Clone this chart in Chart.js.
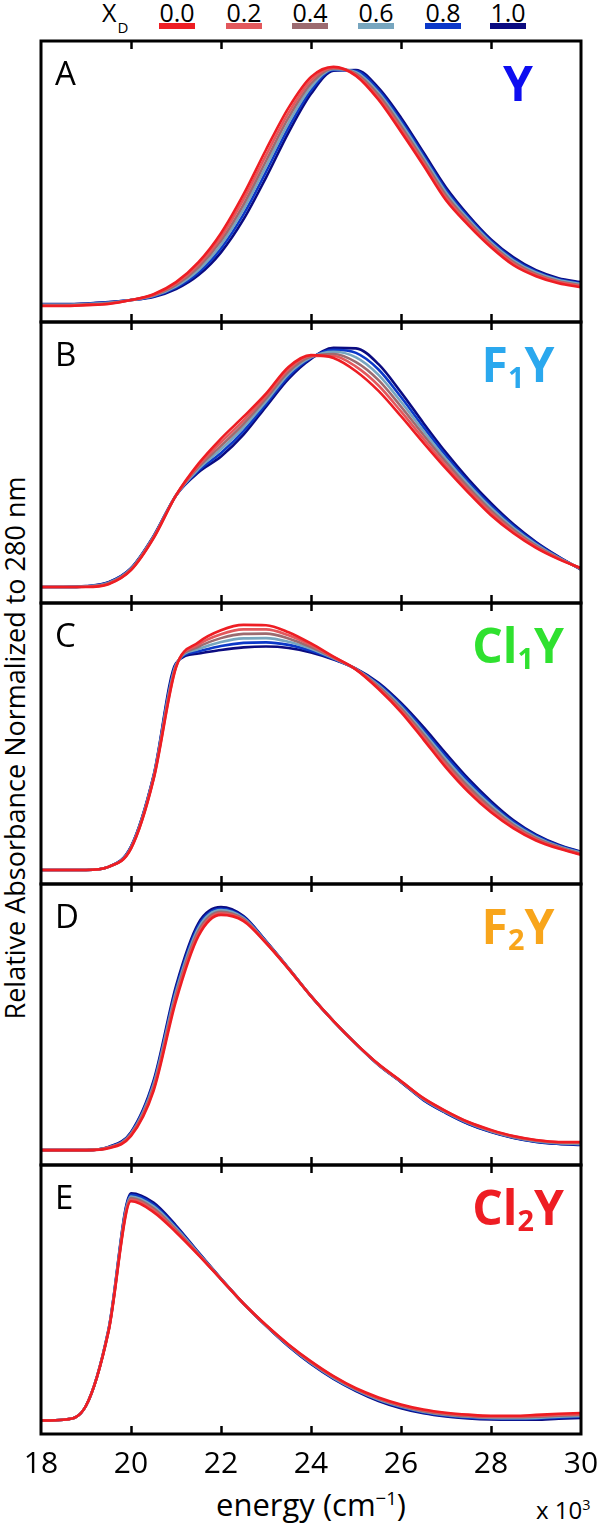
<!DOCTYPE html>
<html>
<head>
<meta charset="utf-8">
<script src="https://cdn.jsdelivr.net/npm/chart.js@4.4.1/dist/chart.umd.min.js"></script>
<style>
  html, body { margin: 0; padding: 0; background: #fff; }
  body {
    width: 597px; height: 1523px; position: relative; overflow: hidden;
    font-family: "Open Sans", "Noto Sans", sans-serif; color: #000;
  }
  .abs { position: absolute; white-space: nowrap; line-height: 1; }
  .letter { font-size: 33px; }
  .name { font-size: 48px; font-weight: bold; width: 200px; text-align: center; }
  .name sub { font-size: 0.6em; vertical-align: -0.22em; }
  .xd { font-size: 25px; text-align: center; width: 60px; }
  .bar { position: absolute; height: 6px; width: 36px; }
  canvas { position: absolute; left: 0; }
</style>
</head>
<body>
<div id="legend"></div>
<div class="abs" style="left:102px;top:0px;font-size:25px;">X<span style="font-size:15px;position:relative;top:11px;left:1px;">D</span></div>
<div class="abs" style="left:14px;top:748px;font-size:27px;transform:translate(-50%,-50%) rotate(-90deg);">Relative Absorbance Normalized to 280 nm</div>
<div class="abs" style="left:311px;top:1504px;font-size:31px;transform:translate(-50%,-50%);">energy (cm<sup style="font-size:0.6em;vertical-align:0.55em;">−1</sup>)</div>
<div class="abs" style="left:536px;top:1498px;font-size:24px;">x 10<sup style="font-size:0.6em;vertical-align:0.6em;">3</sup></div>

<script>
// energy axis, x 10^3 cm-1
const energy = [18, 18.5, 19, 19.5, 20, 20.5, 21, 21.5, 22, 22.5, 23, 23.5, 24, 24.5, 25, 25.5, 26, 26.5, 27, 27.5, 28, 28.5, 29, 29.5, 30];
const xTickLabels = [18, 20, 22, 24, 26, 28, 30];
const innerTicks = [20, 22, 24, 26, 28];

const xdLabels = ['0.0', '0.2', '0.4', '0.6', '0.8', '1.0'];
const xdColors = ['#ee1d23', '#e2585c', '#9c6b70', '#77a6bf', '#0b38c8', '#0b0b80'];

const panelLetters = ['A', 'B', 'C', 'D', 'E'];
const panelNames = ['Y', 'F<sub>1</sub>Y', 'Cl<sub>1</sub>Y', 'F<sub>2</sub>Y', 'Cl<sub>2</sub>Y'];
const panelNameColors = ['#0d0df0', '#2aa8ee', '#2fe12f', '#f8a51b', '#ee1d23'];

// relative absorbance (% of panel height)
// A - Y
const a00 = [5.7, 5.7, 6.0, 6.4, 7.8, 9.9, 14.2, 21.3, 31.6, 45.4, 61.3, 76.2, 87.2, 90.8, 87.6, 79.1, 67.7, 55.7, 43.3, 34.4, 26.6, 20.2, 16.3, 13.8, 12.4];
const a02 = [5.8, 5.8, 6.1, 6.5, 7.8, 9.7, 13.7, 20.4, 30.2, 43.6, 59.3, 74.4, 86.0, 90.5, 88.0, 79.9, 68.7, 56.6, 44.2, 35.1, 27.2, 20.8, 16.7, 14.2, 12.8];
const a04 = [6.0, 6.0, 6.2, 6.7, 7.8, 9.5, 13.2, 19.5, 28.9, 41.8, 57.3, 72.7, 84.8, 90.2, 88.4, 80.8, 69.7, 57.5, 45.1, 35.8, 27.7, 21.3, 17.1, 14.5, 13.1];
const a06 = [6.1, 6.1, 6.4, 6.8, 7.8, 9.3, 12.7, 18.5, 27.5, 40.1, 55.4, 70.9, 83.6, 90.0, 88.9, 81.6, 70.7, 58.5, 46.1, 36.5, 28.3, 21.9, 17.6, 14.9, 13.5];
const a08 = [6.3, 6.3, 6.5, 7.0, 7.8, 9.1, 12.2, 17.6, 26.2, 38.3, 53.4, 69.2, 82.4, 89.7, 89.3, 82.5, 71.7, 59.4, 47.0, 37.2, 28.8, 22.4, 18.0, 15.2, 13.8];
const a10 = [6.4, 6.4, 6.6, 7.1, 7.8, 8.9, 11.7, 16.7, 24.8, 36.5, 51.4, 67.4, 81.2, 89.4, 89.7, 83.3, 72.7, 60.3, 47.9, 37.9, 29.4, 23.0, 18.4, 15.6, 14.2];
// B - F1Y
const b00 = [5.7, 5.7, 5.7, 6.7, 11.7, 23.0, 38.3, 49.6, 58.5, 66.3, 74.5, 84.0, 88.2, 87.2, 82.5, 75.5, 66.5, 57.0, 47.8, 39.2, 31.2, 24.8, 19.6, 15.6, 12.4];
const b02 = [5.7, 5.7, 5.8, 6.8, 11.8, 23.2, 38.3, 49.0, 57.2, 65.0, 73.6, 83.2, 87.9, 87.9, 84.1, 77.4, 68.2, 58.4, 48.9, 40.2, 32.1, 25.4, 20.0, 15.8, 12.3];
const b04 = [5.7, 5.7, 5.8, 7.0, 12.0, 23.3, 38.3, 48.4, 55.9, 63.7, 72.7, 82.3, 87.7, 88.6, 85.7, 79.3, 69.9, 59.8, 50.1, 41.1, 32.9, 26.1, 20.4, 16.0, 12.2];
const b06 = [5.7, 5.7, 5.9, 7.1, 12.1, 23.5, 38.3, 47.7, 54.7, 62.5, 71.7, 81.5, 87.4, 89.4, 87.4, 81.2, 71.6, 61.2, 51.2, 42.1, 33.8, 26.7, 20.9, 16.1, 12.1];
const b08 = [5.7, 5.7, 5.9, 7.3, 12.3, 23.6, 38.3, 47.1, 53.4, 61.2, 70.8, 80.6, 87.2, 90.1, 89.0, 83.1, 73.3, 62.6, 52.4, 43.0, 34.6, 27.4, 21.3, 16.3, 12.0];
const b10 = [5.7, 5.7, 6.0, 7.4, 12.4, 23.8, 38.3, 46.5, 52.1, 59.9, 69.9, 79.8, 86.9, 90.8, 90.6, 85.0, 75.0, 64.0, 53.5, 44.0, 35.5, 28.0, 21.7, 16.5, 11.9];
// C - Cl1Y
const c00 = [5.0, 5.0, 5.0, 6.1, 12.6, 37.1, 77.0, 86.0, 90.3, 92.2, 92.1, 89.6, 85.6, 80.9, 76.3, 69.4, 61.2, 51.4, 41.4, 32.7, 25.5, 19.8, 15.5, 12.6, 10.4];
const c02 = [5.0, 5.0, 5.0, 6.1, 12.7, 37.4, 77.3, 85.2, 88.9, 90.6, 90.6, 88.5, 85.0, 80.7, 76.4, 69.8, 61.8, 52.3, 42.4, 33.6, 26.3, 20.4, 15.9, 12.9, 10.6];
const c04 = [5.0, 5.0, 5.0, 6.1, 12.9, 37.7, 77.6, 84.4, 87.5, 89.0, 89.1, 87.4, 84.3, 80.5, 76.4, 70.3, 62.5, 53.2, 43.4, 34.6, 27.1, 21.0, 16.3, 13.2, 10.8];
const c06 = [5.0, 5.0, 5.0, 6.1, 13.0, 37.9, 77.9, 83.6, 86.1, 87.4, 87.5, 86.2, 83.7, 80.3, 76.5, 70.7, 63.1, 54.0, 44.4, 35.5, 27.9, 21.5, 16.8, 13.4, 11.1];
const c08 = [5.0, 5.0, 5.0, 6.1, 13.2, 38.2, 78.2, 82.8, 84.7, 85.8, 86.0, 85.1, 83.0, 80.1, 76.5, 71.2, 63.8, 54.9, 45.4, 36.5, 28.7, 22.1, 17.2, 13.7, 11.3];
const c10 = [5.0, 5.0, 5.0, 6.1, 13.3, 38.5, 78.5, 82.0, 83.3, 84.2, 84.5, 84.0, 82.4, 79.9, 76.6, 71.6, 64.4, 55.8, 46.4, 37.4, 29.5, 22.7, 17.6, 14.0, 11.5];
// D - F2Y
const d00 = [5.3, 5.3, 5.3, 6.0, 10.3, 26.3, 58.4, 81.5, 89.0, 86.8, 79.0, 69.8, 60.1, 51.2, 43.1, 35.9, 29.9, 23.8, 19.2, 15.3, 12.5, 10.3, 8.9, 8.2, 8.2];
const d02 = [5.3, 5.3, 5.3, 6.1, 10.6, 27.0, 59.5, 82.4, 89.6, 87.2, 79.1, 69.9, 60.1, 51.2, 43.1, 35.8, 29.8, 23.7, 19.1, 15.2, 12.3, 10.2, 8.8, 8.1, 8.0];
const d04 = [5.3, 5.3, 5.3, 6.2, 10.9, 27.7, 60.5, 83.3, 90.1, 87.5, 79.3, 69.9, 60.1, 51.2, 43.1, 35.8, 29.7, 23.5, 18.9, 15.0, 12.2, 10.0, 8.6, 7.9, 7.8];
const d06 = [5.3, 5.3, 5.3, 6.2, 11.1, 28.5, 61.6, 84.3, 90.7, 87.9, 79.4, 70.0, 60.1, 51.2, 43.1, 35.7, 29.7, 23.4, 18.8, 14.9, 12.0, 9.9, 8.5, 7.8, 7.5];
const d08 = [5.3, 5.3, 5.3, 6.3, 11.4, 29.2, 62.6, 85.2, 91.2, 88.2, 79.6, 70.0, 60.1, 51.2, 43.1, 35.7, 29.6, 23.2, 18.6, 14.7, 11.9, 9.7, 8.3, 7.6, 7.3];
const d10 = [5.3, 5.3, 5.3, 6.4, 11.7, 29.9, 63.7, 86.1, 91.8, 88.6, 79.7, 70.1, 60.1, 51.2, 43.1, 35.6, 29.5, 23.1, 18.5, 14.6, 11.7, 9.6, 8.2, 7.5, 7.1];
// E - Cl2Y
const e00 = [5.0, 5.3, 10.5, 38.0, 86.5, 82.5, 75.0, 66.5, 57.5, 48.5, 40.5, 33.3, 27.0, 21.5, 17.0, 13.6, 11.0, 9.1, 7.9, 7.2, 6.8, 6.8, 7.1, 7.5, 7.8];
const e02 = [5.0, 5.3, 10.5, 38.2, 87.1, 83.2, 75.5, 66.7, 57.6, 48.5, 40.4, 33.2, 26.8, 21.3, 16.8, 13.3, 10.7, 8.8, 7.6, 6.9, 6.5, 6.5, 6.7, 7.1, 7.4];
const e04 = [5.0, 5.3, 10.5, 38.3, 87.7, 83.9, 76.0, 66.9, 57.6, 48.5, 40.4, 33.0, 26.6, 21.1, 16.6, 13.1, 10.4, 8.5, 7.3, 6.6, 6.2, 6.2, 6.4, 6.8, 7.1];
const e06 = [5.0, 5.3, 10.5, 38.5, 88.3, 84.6, 76.5, 67.1, 57.7, 48.5, 40.3, 32.9, 26.4, 20.9, 16.4, 12.8, 10.2, 8.3, 7.1, 6.4, 6.0, 5.9, 6.0, 6.4, 6.7];
const e08 = [5.0, 5.3, 10.5, 38.6, 88.9, 85.3, 77.0, 67.3, 57.7, 48.5, 40.3, 32.7, 26.2, 20.7, 16.2, 12.6, 9.9, 8.0, 6.8, 6.1, 5.7, 5.6, 5.7, 6.1, 6.4];
const e10 = [5.0, 5.3, 10.5, 38.8, 89.5, 86.0, 77.5, 67.5, 57.8, 48.5, 40.2, 32.6, 26.0, 20.5, 16.0, 12.3, 9.6, 7.7, 6.5, 5.8, 5.4, 5.3, 5.3, 5.7, 6.0];

const panelSeries = [
  [a00, a02, a04, a06, a08, a10],
  [b00, b02, b04, b06, b08, b10],
  [c00, c02, c04, c06, c08, c10],
  [d00, d02, d04, d06, d08, d10],
  [e00, e02, e04, e06, e08, e10]
];

// layout
const panelTop = [41, 322, 603, 884, 1165];
const PANEL_H = 281;
const PAD = 4;
const LEFT = 41, RIGHT = 16;

// legend (X_D) across the top
const legend = document.getElementById('legend');
const legendX = [177, 244, 310, 376, 443, 508];
xdLabels.forEach((lab, i) => {
  const t = document.createElement('div');
  t.className = 'abs xd';
  t.style.left = (legendX[i] - 30) + 'px';
  t.style.top = '0px';
  t.textContent = lab;
  legend.appendChild(t);
  const b = document.createElement('div');
  b.className = 'bar';
  b.style.left = (legendX[i] - 18) + 'px';
  b.style.top = '23px';
  b.style.background = xdColors[i];
  legend.appendChild(b);
});

// frame + inward tick marks, drawn with the x scale
const frameTicks = {
  id: 'frameTicks',
  afterDraw(chart) {
    const { ctx, chartArea: a, scales: { x } } = chart;
    ctx.save();
    ctx.strokeStyle = '#000';
    ctx.lineWidth = 3;
    ctx.strokeRect(a.left, a.top, a.right - a.left, a.bottom - a.top);
    ctx.lineWidth = 2.5;
    ctx.beginPath();
    innerTicks.forEach(v => {
      const px = Math.round(x.getPixelForValue(v)) + 0.5;
      ctx.moveTo(px, a.top); ctx.lineTo(px, a.top + 8);
      ctx.moveTo(px, a.bottom); ctx.lineTo(px, a.bottom - 8);
    });
    ctx.stroke();
    ctx.restore();
  }
};

panelSeries.forEach((series, p) => {
  const last = p === panelSeries.length - 1;
  const h = PANEL_H + 2 * PAD + (last ? 36 : 0);
  const canvas = document.createElement('canvas');
  canvas.width = 597;
  canvas.height = h;
  canvas.style.top = (panelTop[p] - PAD) + 'px';
  canvas.style.width = '597px';
  canvas.style.height = h + 'px';
  document.body.appendChild(canvas);

  new Chart(canvas, {
    type: 'line',
    data: {
      datasets: series.map((vals, i) => ({
        label: xdLabels[i],
        data: energy.map((e, j) => ({ x: e, y: vals[j] })),
        borderColor: xdColors[i],
        borderWidth: 2.6,
        pointRadius: 0,
        fill: false,
        cubicInterpolationMode: 'monotone'
      }))
    },
    options: {
      responsive: false,
      animation: false,
      devicePixelRatio: 1,
      events: [],
      layout: { padding: { top: PAD, bottom: last ? 0 : PAD, left: LEFT, right: RIGHT } },
      plugins: { legend: { display: false }, tooltip: { enabled: false } },
      scales: {
        x: {
          type: 'linear',
          min: 18,
          max: 30,
          display: last,
          grid: { display: false },
          border: { display: false },
          afterBuildTicks: s => { s.ticks = xTickLabels.map(v => ({ value: v })); },
          afterFit: s => { s.paddingLeft = 0; s.paddingRight = 0; },
          ticks: {
            color: '#000',
            padding: 4,
            maxRotation: 0,
            autoSkip: false,
            font: { family: '"Open Sans", "Noto Sans", sans-serif', size: 30 },
            callback: v => String(v)
          }
        },
        y: { display: false, min: 0, max: 100 }
      }
    },
    plugins: [frameTicks]
  });

  const L = document.createElement('div');
  L.className = 'abs letter';
  L.style.left = '55px';
  L.style.top = (panelTop[p] + 15) + 'px';
  L.textContent = panelLetters[p];
  document.body.appendChild(L);

  const N = document.createElement('div');
  N.className = 'abs name';
  N.style.left = '418px';
  N.style.top = (panelTop[p] + 18) + 'px';
  N.style.color = panelNameColors[p];
  N.innerHTML = panelNames[p];
  document.body.appendChild(N);
});
</script>
</body>
</html>
